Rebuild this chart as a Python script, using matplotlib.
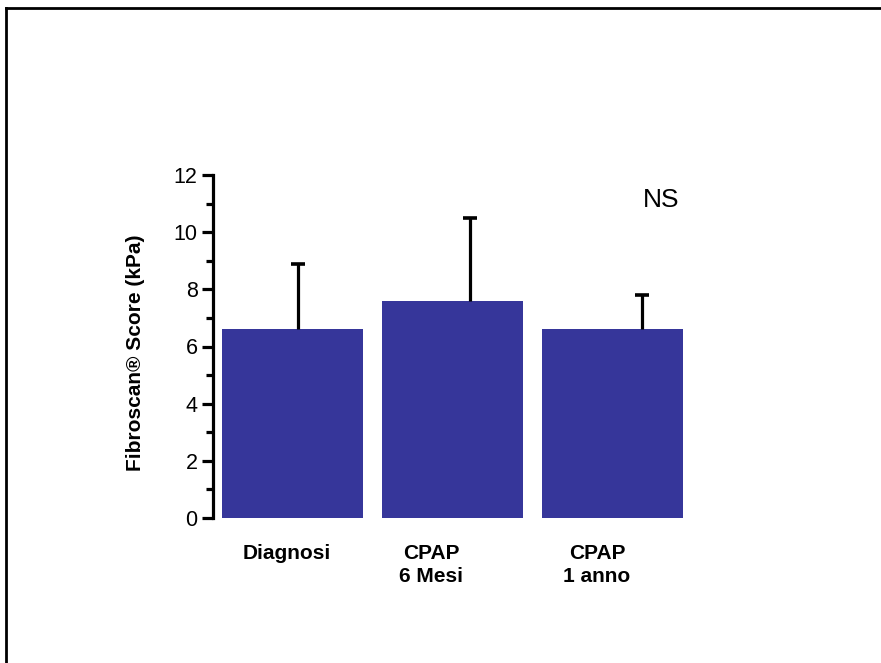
import matplotlib
matplotlib.use("Agg")
import matplotlib.pyplot as plt
from matplotlib.lines import Line2D
from matplotlib.transforms import IdentityTransform

plt.rcParams['font.family'] = ['Liberation Sans', 'DejaVu Sans']

categories = ["Diagnosi", "CPAP\n6 Mesi", "CPAP\n1 anno"]
means = [6.6, 7.6, 6.6]
errors = [2.3, 2.9, 1.2]
yticks = [0, 2, 4, 6, 8, 10, 12]

# layout offsets (as in the reference picture)
err_offsets = [0.034, 0.11, 0.184]
label_offsets = [-0.034, -0.134, -0.097]

W, H = 881, 663
fig = plt.figure(figsize=(W / 100, H / 100), dpi=100)
ax = fig.add_axes([213 / W, 1 - 518 / H, 580 / W, 343 / H])

x = list(range(len(categories)))
ax.bar(x, means, width=141 / 160, color="#36369a", zorder=2)
ex = [xi + o for xi, o in zip(x, err_offsets)]
_, caps, _ = ax.errorbar(ex, means, yerr=[[0] * len(errors), errors], fmt="none",
                         ecolor="black", elinewidth=2.3, capsize=5, capthick=2.6, zorder=3)
caps[0].set_visible(False)

ax.set_xlim(-0.497, -0.497 + 580 / 160)
ax.set_ylim(0, 12)
ax.set_yticks(yticks)
ax.set_yticks([1, 3, 5, 7, 9, 11], minor=True)
ax.tick_params(axis="y", which="major", length=8, width=2.3, labelsize=15.5, pad=3)
ax.tick_params(axis="y", which="minor", length=5, width=2.3)

lx = [xi + o for xi, o in zip(x, label_offsets)]
ax.set_xticks(lx)
ax.set_xticklabels(categories, fontsize=15, fontweight="bold", linespacing=1.25)
ax.tick_params(axis="x", length=0, pad=19)

for s in ["top", "right", "bottom"]:
    ax.spines[s].set_visible(False)
ax.spines["left"].set_linewidth(2.3)

ax.set_ylabel("Fibroscan® Score (kPa)", fontsize=15, fontweight="bold")
ax.yaxis.set_label_coords(-0.117, 0.4825)

ax.text(661, H - 200, "NS", transform=IdentityTransform(), fontsize=19,
        ha="center", va="center")

# frame lines (top and left)
fig.add_artist(Line2D([6 / W, 1], [1 - 7.5 / H, 1 - 7.5 / H], transform=fig.transFigure,
                      color="black", linewidth=2.0))
fig.add_artist(Line2D([6 / W, 6 / W], [0, 1 - 7.5 / H], transform=fig.transFigure,
                      color="black", linewidth=2.0))

fig.savefig("out.png", dpi=100)
